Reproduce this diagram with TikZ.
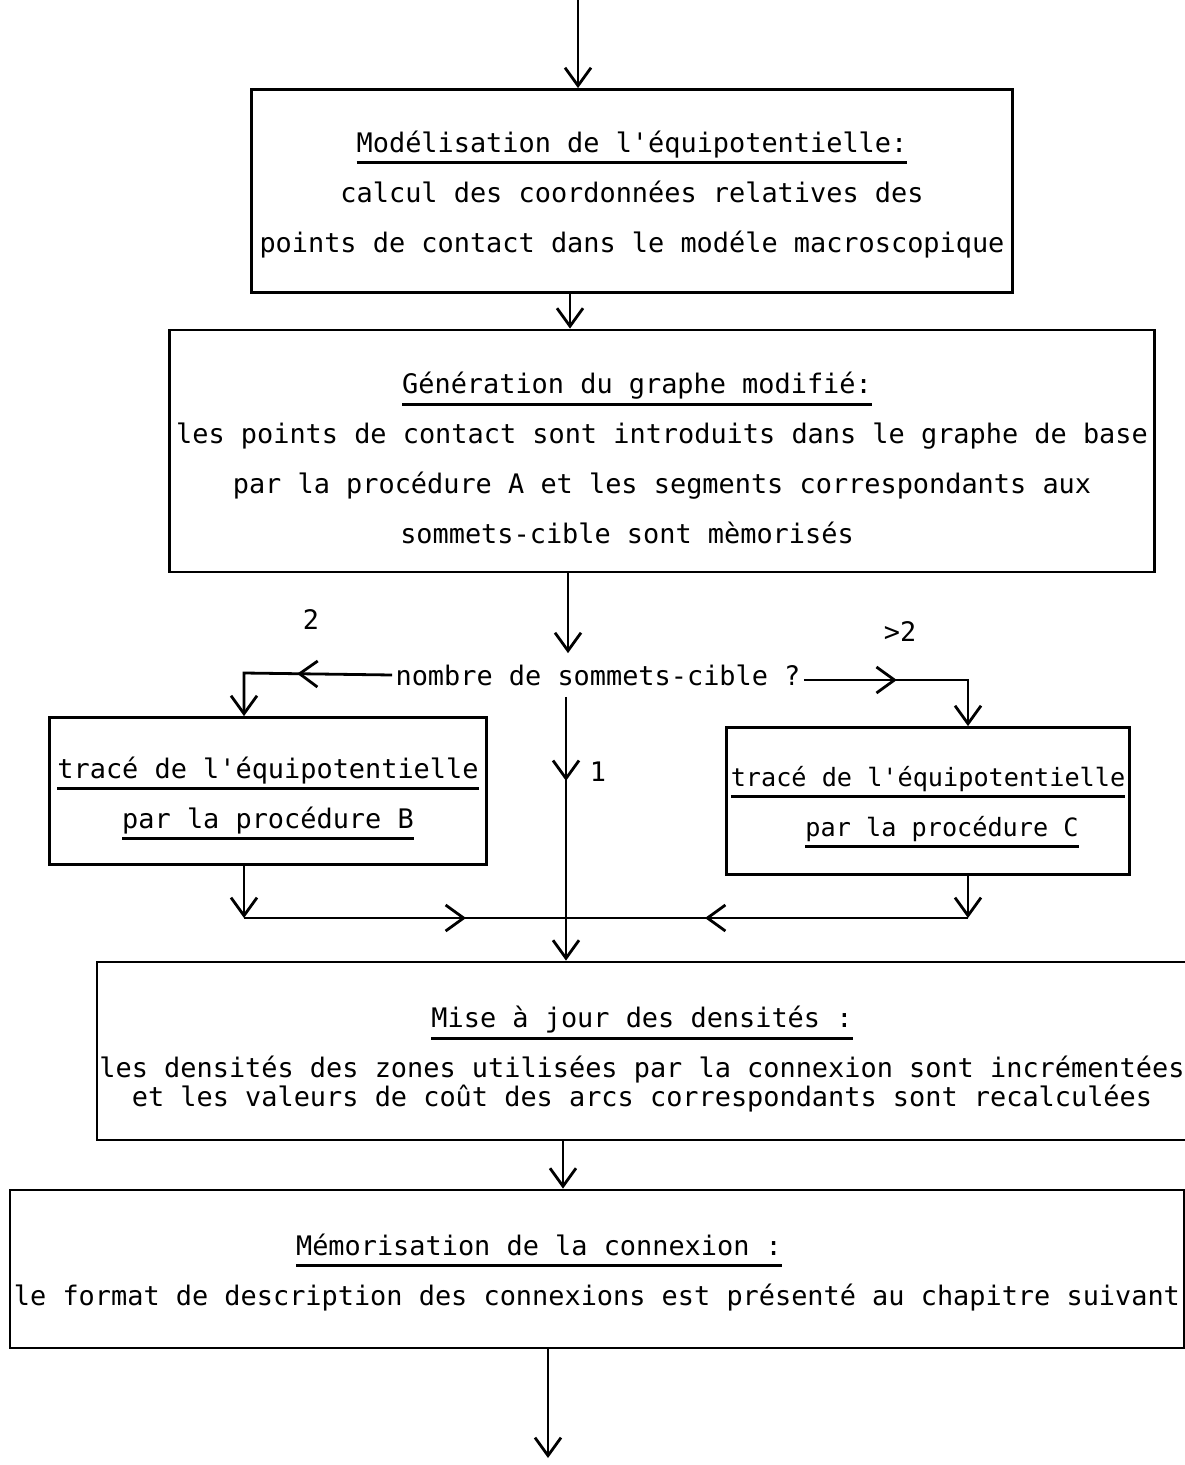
\documentclass[tikz,border=0pt]{standalone}
\usepackage{fontspec}
\setmonofont{DejaVu Sans Mono}
\usetikzlibrary{arrows.meta,decorations.markings}
\newcommand{\ulined}[1]{\setbox0\hbox{#1}\rlap{\rule[-6pt]{\wd0}{1.4pt}}\box0}
\newcommand{\highline}[1]{\rule{0pt}{#1}}
\tikzset{
  box/.style={draw, line width=1.4pt, align=center, inner sep=0pt,
    font=\ttfamily\fontsize{13.45pt}{25pt}\selectfont},
  lbl/.style={font=\ttfamily\fontsize{13.45pt}{25pt}\selectfont},
  tip/.style={-{Straight Barb[length=9pt,width=13pt]}},
  midtip/.style={postaction={decorate}, decoration={markings,
    mark=at position #1 with {\arrow{Straight Barb[length=9pt,width=13pt]}}}}
}
\begin{document}
\begin{tikzpicture}[x=0.5pt, y=-0.5pt, line width=1.4pt]
    \useasboundingbox (0,0) rectangle (1184,1465);

    % Boxes
    \node[box, minimum width=380.5pt, minimum height=101.5pt] (model) at (632,191)
      {\highline{14pt}\ulined{Modélisation de l'équipotentielle:}\\
       calcul des coordonnées relatives des\\
       points de contact dans le modéle macroscopique};
    \node[box, minimum width=492.5pt, minimum height=121pt] (graph) at (662,451)
      {\highline{18pt}\ulined{Génération du graphe modifié:}\hspace*{25pt}\mbox{}\\
       les points de contact sont introduits dans le graphe de base\\
       par la procédure A et les segments correspondants aux\\
       sommets-cible sont mèmorisés\hspace*{35pt}\mbox{}};
    \node[lbl, inner xsep=1pt, inner ysep=5pt] (q) at (598,675) {nombre de sommets-cible ?};
    \node[box, minimum width=218.5pt, minimum height=73.5pt] (procB) at (268,791)
      {\highline{18pt}\ulined{tracé de l'équipotentielle}\\
       \ulined{par la procédure B}};
    \node[box, minimum width=201.5pt, minimum height=73.5pt, font=\ttfamily\fontsize{12.6pt}{25pt}\selectfont] (procC) at (928,801)
      {\highline{16pt}\ulined{tracé de l'équipotentielle}\\
       \mbox{}\hspace*{14pt}\ulined{par la procédure C}};
    \node[box, minimum width=545pt, minimum height=89pt] (dens) at (642,1051)
      {\highline{19pt}\ulined{Mise à jour des densités :}\\
       les densités des zones utilisées par la connexion sont incrémentées\\[-10.5pt]
       et les valeurs de coût des arcs correspondants sont recalculées};
    \node[box, minimum width=587pt, minimum height=79pt] (memo) at (597,1269)
      {\highline{14pt}\ulined{Mémorisation de la connexion :}\hspace*{58pt}\mbox{}\\
       le format de description des connexions est présenté au chapitre suivant};

    % Labels
    \node[lbl] (two) at (311,620) {2};
    \node[lbl] (more) at (900,632) {>2};
    \node[lbl] (one) at (598,772) {1};

    % Points
    \coordinate (top) at (578,0);
    \coordinate (end) at (548,1458);
    \coordinate (s1) at (570,0);
    \coordinate (s2) at (568,0);
    \coordinate (s3) at (566,0);
    \coordinate (s4) at (563,0);
    \coordinate (cB) at (244,673);
    \coordinate (cC) at (968,680);
    \coordinate (jB) at (244,918);
    \coordinate (jC) at (968,918);
    \coordinate (jM) at (566,918);

    % Arrows
    \draw[tip] (top) -- (top |- model.north);
    \draw[tip] (model.south -| s1) -- (graph.north -| s1);
    \draw[tip] (graph.south -| s2) -- (q.north -| s2);
    \draw[midtip=47.5pt, tip] (q.west) -- (cB) -- (procB.north -| cB);
    \draw[midtip=46.5pt, tip] (q.east |- cC) -- (cC) -- (procC.north -| cC);
    \draw[midtip=42pt, tip] (q.south -| s3) -- (dens.north -| s3);
    \draw[tip] (procB.south -| jB) -- (jB);
    \draw[tip] (procC.south -| jC) -- (jC);
    \draw[midtip=111pt] (jB) -- (jM);
    \draw[midtip=131.5pt] (jC) -- (jM);
    \draw[tip] (dens.south -| s4) -- (memo.north -| s4);
    \draw[tip] (memo.south -| end) -- (end);
\end{tikzpicture}
\end{document}
